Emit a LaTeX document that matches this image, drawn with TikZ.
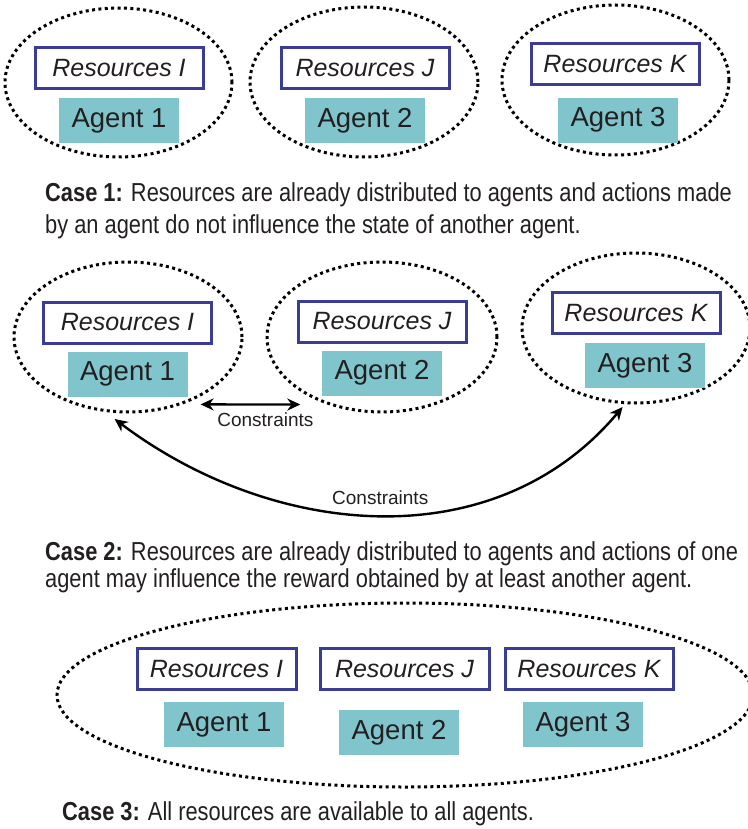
\documentclass[tikz,border=0pt]{standalone}
\usepackage{fontspec}
\setmainfont{Liberation Sans}
\newfontfamily\casefont[FakeStretch=0.84]{Liberation Sans}
\usetikzlibrary{positioning, arrows.meta, shapes.geometric}
\definecolor{resblue}{RGB}{58,60,150}
\definecolor{agentteal}{RGB}{128,196,204}
\definecolor{inkgray}{RGB}{35,31,32}
\tikzset{
  resbox/.style={
    draw=resblue, line width=3pt, fill=white, text=inkgray,
    font=\fontsize{25}{28}\selectfont\itshape,
    minimum width=168pt, minimum height=41pt, inner sep=0pt
  },
  agentbox/.style={
    fill=agentteal, text=inkgray, font=\fontsize{27.5}{30}\selectfont,
    minimum width=120pt, minimum height=45pt, inner sep=0pt
  },
  group/.style={
    ellipse, draw=black, line width=3pt,
    dash pattern=on 3pt off 3.4pt, inner sep=0pt
  },
  casetext/.style={anchor=base west, text=inkgray, inner sep=0pt,
    font=\casefont\fontsize{26}{30}\selectfont},
  link/.style={{Stealth[length=13pt,width=12pt]}-{Stealth[length=13pt,width=12pt]}, line width=2.4pt},
  linklabel/.style={font=\fontsize{19}{21}\selectfont, text=inkgray}
}

\begin{document}
\begin{tikzpicture}[x=1pt, y=1pt]
  \useasboundingbox (0,0) rectangle (747,-829);

  % case 1
  \node[group, minimum width=227pt, minimum height=149pt] (g1) at (118.5,-82.5) {};
  \node[group, minimum width=228pt, minimum height=150pt] (g2) at (364,-82) {};
  \node[group, minimum width=227pt, minimum height=150pt] (g3) at (615.5,-80) {};
  \node[resbox] (r1) at (119,-68) {Resources I};
  \node[resbox] (r2) at (365,-68) {Resources J};
  \node[resbox] (r3) at (615,-64.5) {Resources K};
  \node[agentbox, below=8pt of r1] (a1) {Agent 1};
  \node[agentbox, below=8pt of r2] (a2) {Agent 2};
  \node[agentbox, below=11pt of r3, xshift=3pt] (a3) {Agent 3};
  \node[casetext] (t1) at (45,-201) {\textbf{Case 1:} Resources are already distributed to agents and actions made};
  \node[casetext] (t1b) at (45,-233) {by an agent do not influence the state of another agent.};

  % case 2
  \node[group, minimum width=228pt, minimum height=150pt] (g4) at (128,-337) {};
  \node[group, minimum width=230pt, minimum height=150pt] (g5) at (382,-337) {};
  \node[group, minimum width=228pt, minimum height=150pt] (g6) at (636,-328) {};
  \node[resbox] (r4) at (127.5,-322.5) {Resources I};
  \node[resbox] (r5) at (382,-321.5) {Resources J};
  \node[resbox] (r6) at (636,-313) {Resources K};
  \node[agentbox, below=7pt of r4] (a4) {Agent 1};
  \node[agentbox, below=7pt of r5] (a5) {Agent 2};
  \node[agentbox, below=8pt of r6, xshift=9pt] (a6) {Agent 3};
  \draw[link] ([xshift=18pt]g4.-51) -- node[linklabel, below=4pt, pos=0.65] {Constraints} ([xshift=-27pt]g5.-129);
  \draw[link] ([yshift=-6pt]g4.-100) to[out=-37, in=-130] node[linklabel, above=6pt] {Constraints} ([yshift=-3pt]g6.-100);
  \node[casetext] (t2) at (45,-560) {\textbf{Case 2:} Resources are already distributed to agents and actions of one};
  \node[casetext] (t2b) at (45,-587) {agent may influence the reward obtained by at least another agent.};

  % case 3
  \node[group, minimum width=696pt, minimum height=184pt] (g7) at (405,-695) {};
  \node[resbox, minimum width=159pt] (r7) at (216.5,-669) {Resources I};
  \node[resbox, minimum width=169pt] (r8) at (404.5,-669) {Resources J};
  \node[resbox] (r9) at (589,-669) {Resources K};
  \node[agentbox, below=11pt of r7, xshift=7.5pt] (a7) {Agent 1};
  \node[agentbox, below=19pt of r8, xshift=-5.5pt] (a8) {Agent 2};
  \node[agentbox, below=11pt of r9, xshift=-6pt] (a9) {Agent 3};
  \node[casetext] (t3) at (62,-820) {\textbf{Case 3:} All resources are available to all agents.};
\end{tikzpicture}
\end{document}
